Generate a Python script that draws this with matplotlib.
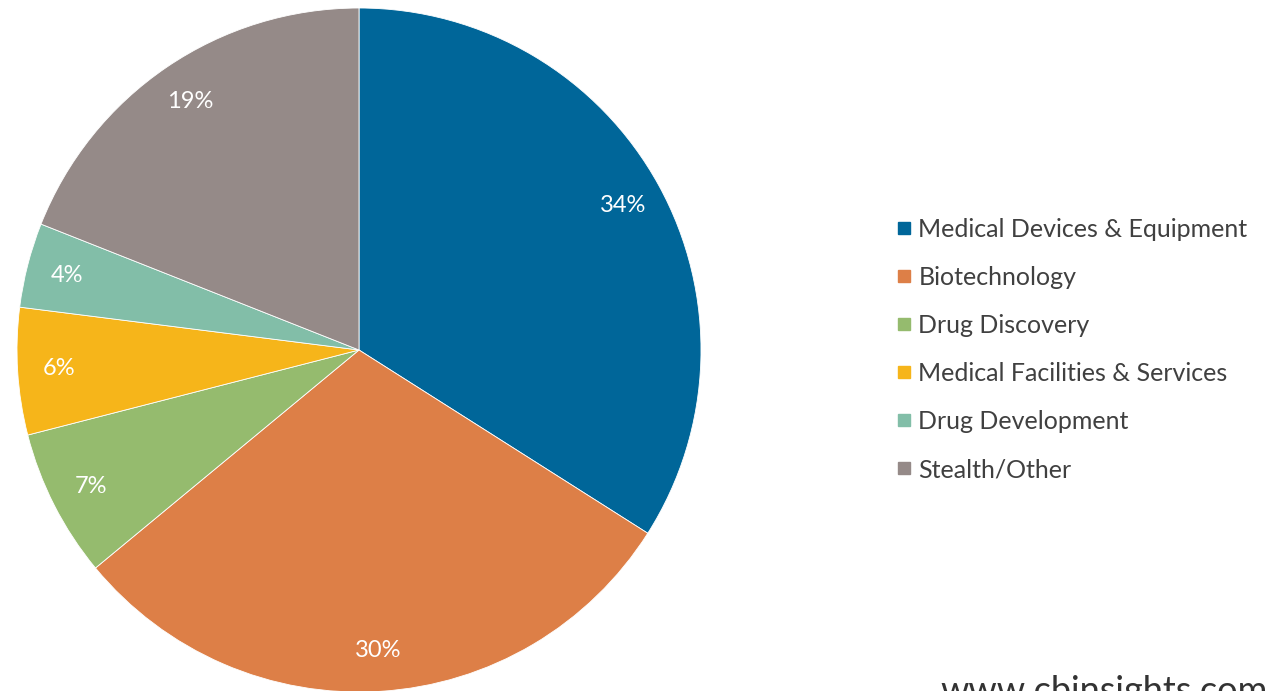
import matplotlib
matplotlib.use("Agg")
import matplotlib.pyplot as plt
from matplotlib.lines import Line2D

categories = ["Medical Devices & Equipment", "Biotechnology", "Drug Discovery",
              "Medical Facilities & Services", "Drug Development", "Stealth/Other"]
values = [34, 30, 7, 6, 4, 19]
colors = ["#006699", "#DD7F47", "#95BB6E", "#F6B51A", "#82BEA8", "#958A88"]

plt.rcParams['font.family'] = ['Lato', 'DejaVu Sans']

W, H = 1270, 691
fig = plt.figure(figsize=(W / 100, H / 100), dpi=100)
cx, cy, r = 359, 350, 342
ax = fig.add_axes([(cx - r) / W, (H - cy - r) / H, 2 * r / W, 2 * r / H])
wedges, texts, autotexts = ax.pie(
    values, colors=colors, startangle=90, counterclock=False,
    autopct=lambda p: f"{p:.0f}%", pctdistance=0.88, radius=1,
    wedgeprops=dict(edgecolor="white", linewidth=0.6),
    textprops=dict(color="white", fontsize=17))
ax.set_xlim(-1, 1)
ax.set_ylim(-1, 1)
ax.set_aspect("equal")
ax.axis("off")

handles = [Line2D([0], [0], marker="s", linestyle="none", markersize=9,
                  markerfacecolor=c, markeredgecolor=c) for c in colors]
leg = fig.legend(handles, categories, loc="upper left",
                 bbox_to_anchor=(886 / W, 1 - 208 / H), frameon=False,
                 fontsize=18, handlelength=0.6, handletextpad=0.3,
                 labelspacing=1.0, borderaxespad=0)
for t in leg.get_texts():
    t.set_color("#404040")

fig.text(940 / W, 1 - 702 / H, "www.cbinsights.com", fontsize=26,
         color="#333333", ha="left", va="baseline")

fig.savefig("out.png", dpi=100)
